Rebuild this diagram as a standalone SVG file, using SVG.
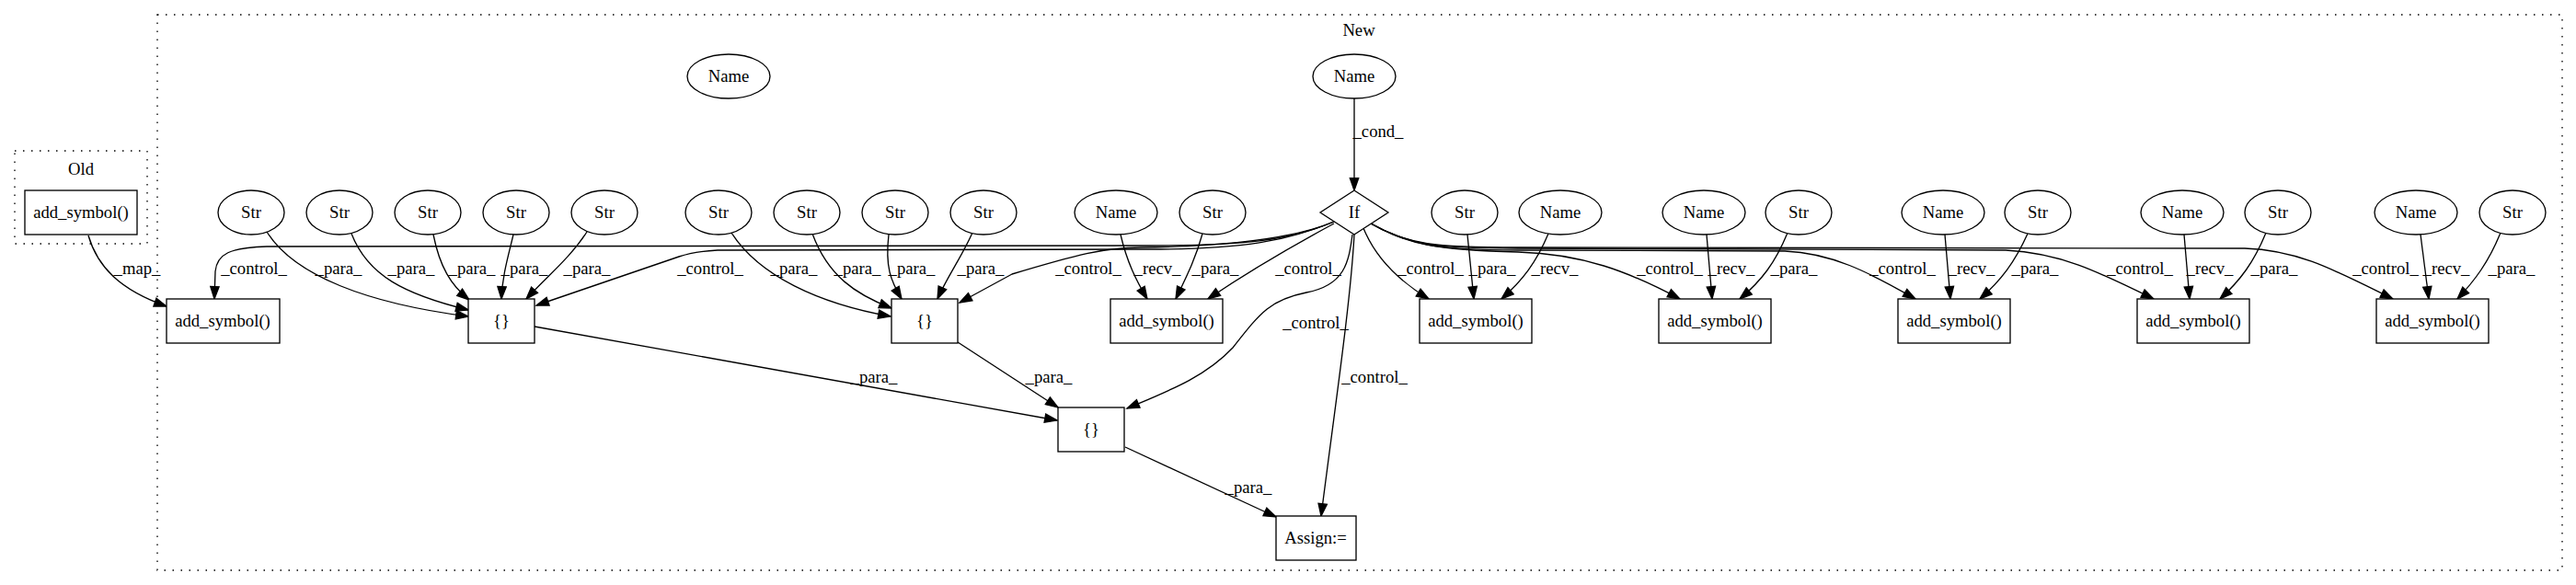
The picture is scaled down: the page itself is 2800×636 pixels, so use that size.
<svg xmlns="http://www.w3.org/2000/svg" width="2800" height="636" viewBox="0 0 2800 636">
<style>
.n{fill:#fff;stroke:#000;stroke-width:1.33}
.e{fill:none;stroke:#000;stroke-width:1.33;marker-end:url(#ah)}
.cl{fill:none;stroke:#000;stroke-width:1.33;stroke-dasharray:1.5 7.5}
text{font-family:"Liberation Serif","Times New Roman",serif;font-size:18.67px;text-anchor:middle;fill:#000}
</style>
<defs>
<marker id="ah" markerWidth="16" markerHeight="12" refX="13.3" refY="4.67" orient="auto" markerUnits="userSpaceOnUse" overflow="visible">
<path d="M0,0 L13.3,4.67 L0,9.33 z" fill="#000" stroke="#000" stroke-width="1.33"/>
</marker>
</defs>
<rect width="2800" height="636" fill="#fff"/>

<g id="cluster_old">
<rect class="cl" x="16" y="164" width="144" height="101"/>
<text x="88" y="190">Old</text>
</g>
<g id="cluster_new">
<rect class="cl" x="171" y="16" width="2614" height="604"/>
<text x="1477" y="39">New</text>
</g>

<g id="edges">
<path class="e" d="M96,256 C106,290 130,315 181,333"/>
<text x="149" y="298">_map_</text>

<path class="e" d="M1450,241 C1400,262 1350,267 1250,267 L290,268 C250,269 236,276 234,295 L233,325"/>
<text x="276" y="298">_control_</text>
<path class="e" d="M1450,241 C1400,262 1350,271 1250,271 L780,272 C760,273 750,275 738,279 L583,332"/>
<text x="772" y="298">_control_</text>
<path class="e" d="M1450,241 C1400,262 1320,268 1240,269 C1200,269 1170,277 1100,298 L1043,329"/>
<text x="1183" y="298">_control_</text>
<path class="e" d="M1450,243 C1400,270 1350,300 1313,325"/>
<text x="1422" y="298">_control_</text>
<path class="e" d="M1470,255 C1466,285 1462,310 1420,318 C1380,326 1370,340 1340,378 C1310,410 1270,425 1225,444"/>
<text x="1430" y="357">_control_</text>
<path class="e" d="M1472,255 C1468,330 1450,450 1436,561"/>
<text x="1494" y="416">_control_</text>
<path class="e" d="M1482,248 C1495,280 1520,305 1553,325"/>
<text x="1555" y="298">_control_</text>
<path class="e" d="M1490,243 C1530,265 1560,272 1650,274 C1720,276 1770,295 1826,325"/>
<text x="1815" y="298">_control_</text>
<path class="e" d="M1490,243 C1530,266 1560,272 1650,272 L1940,273 C1990,275 2030,295 2082,325"/>
<text x="2068" y="298">_control_</text>
<path class="e" d="M1490,243 C1530,266 1560,270 1650,270 L2180,272 C2240,275 2280,295 2341,325"/>
<text x="2326" y="298">_control_</text>
<path class="e" d="M1490,243 C1530,266 1560,269 1650,269 L2440,270 C2500,272 2540,295 2601,325"/>
<text x="2593" y="298">_control_</text>

<path class="e" d="M290,252 C320,300 400,330 509,344"/>
<text x="368" y="298">_para_</text>
<path class="e" d="M382,254 C400,300 440,320 509,337"/>
<text x="447" y="298">_para_</text>
<path class="e" d="M471,255 C478,290 490,310 510,326"/>
<text x="513" y="298">_para_</text>
<path class="e" d="M558,255 C552,280 546,300 545,325"/>
<text x="570" y="298">_para_</text>
<path class="e" d="M638,252 C620,280 595,300 572,325"/>
<text x="638" y="298">_para_</text>

<path class="e" d="M795,253 C825,300 890,330 968,344"/>
<text x="863" y="298">_para_</text>
<path class="e" d="M883,254 C900,300 930,320 969,335"/>
<text x="932" y="298">_para_</text>
<path class="e" d="M966,255 C962,290 968,305 980,325"/>
<text x="991" y="298">_para_</text>
<path class="e" d="M1057,253 C1045,280 1030,300 1019,325"/>
<text x="1066" y="298">_para_</text>

<path class="e" d="M1218,255 C1225,285 1235,305 1247,325"/>
<text x="1258" y="298">_recv_</text>
<path class="e" d="M1307,254 C1300,280 1290,300 1278,325"/>
<text x="1321" y="298">_para_</text>

<path class="e" d="M1595,255 L1602,325"/>
<text x="1622" y="298">_para_</text>
<path class="e" d="M1683,254 C1670,285 1655,305 1632,325"/>
<text x="1690" y="298">_recv_</text>

<path class="e" d="M1855,255 L1861,325"/>
<text x="1882" y="298">_recv_</text>
<path class="e" d="M1943,253 C1930,285 1915,305 1891,325"/>
<text x="1950" y="298">_para_</text>

<path class="e" d="M2114,255 L2120,325"/>
<text x="2143" y="298">_recv_</text>
<path class="e" d="M2204,254 C2190,285 2175,305 2152,325"/>
<text x="2212" y="298">_para_</text>

<path class="e" d="M2374,255 L2380,325"/>
<text x="2402" y="298">_recv_</text>
<path class="e" d="M2463,253 C2450,285 2435,305 2413,325"/>
<text x="2472" y="298">_para_</text>

<path class="e" d="M2631,255 L2640,325"/>
<text x="2659" y="298">_recv_</text>
<path class="e" d="M2718,253 C2705,285 2690,305 2671,325"/>
<text x="2730" y="298">_para_</text>

<path class="e" d="M581,355 L1149,457"/>
<text x="950" y="416">_para_</text>
<path class="e" d="M1041,372 L1150,443"/>
<text x="1140" y="416">_para_</text>
<path class="e" d="M1223,486 L1387,562"/>
<text x="1357" y="536">_para_</text>

<path class="e" d="M1472,107 L1472,207"/>
<text x="1498" y="149">_cond_</text>
</g>

<g id="old_add_symbol"><rect class="n" x="27" y="207" width="122" height="48"/><text x="88" y="237">add_symbol()</text></g>

<g id="name_isolated"><ellipse class="n" cx="792" cy="83" rx="45" ry="24"/><text x="792" y="89">Name</text></g>
<g id="name_cond"><ellipse class="n" cx="1472" cy="83" rx="45" ry="24"/><text x="1472" y="89">Name</text></g>
<g id="if"><polygon class="n" points="1472,207 1509,231 1472,255 1435,231"/><text x="1472" y="237">If</text></g>

<g id="str1"><ellipse class="n" cx="273" cy="231" rx="36" ry="24"/><text x="273" y="237">Str</text></g>
<g id="str2"><ellipse class="n" cx="369" cy="231" rx="36" ry="24"/><text x="369" y="237">Str</text></g>
<g id="str3"><ellipse class="n" cx="465" cy="231" rx="36" ry="24"/><text x="465" y="237">Str</text></g>
<g id="str4"><ellipse class="n" cx="561" cy="231" rx="36" ry="24"/><text x="561" y="237">Str</text></g>
<g id="str5"><ellipse class="n" cx="657" cy="231" rx="36" ry="24"/><text x="657" y="237">Str</text></g>
<g id="str6"><ellipse class="n" cx="781" cy="231" rx="36" ry="24"/><text x="781" y="237">Str</text></g>
<g id="str7"><ellipse class="n" cx="877" cy="231" rx="36" ry="24"/><text x="877" y="237">Str</text></g>
<g id="str8"><ellipse class="n" cx="973" cy="231" rx="36" ry="24"/><text x="973" y="237">Str</text></g>
<g id="str9"><ellipse class="n" cx="1069" cy="231" rx="36" ry="24"/><text x="1069" y="237">Str</text></g>
<g id="name_r2"><ellipse class="n" cx="1213" cy="231" rx="45" ry="24"/><text x="1213" y="237">Name</text></g>
<g id="str10"><ellipse class="n" cx="1318" cy="231" rx="36" ry="24"/><text x="1318" y="237">Str</text></g>
<g id="str11"><ellipse class="n" cx="1592" cy="231" rx="36" ry="24"/><text x="1592" y="237">Str</text></g>
<g id="name_r3"><ellipse class="n" cx="1696" cy="231" rx="45" ry="24"/><text x="1696" y="237">Name</text></g>
<g id="name_r4"><ellipse class="n" cx="1852" cy="231" rx="45" ry="24"/><text x="1852" y="237">Name</text></g>
<g id="str12"><ellipse class="n" cx="1955" cy="231" rx="36" ry="24"/><text x="1955" y="237">Str</text></g>
<g id="name_r5"><ellipse class="n" cx="2112" cy="231" rx="45" ry="24"/><text x="2112" y="237">Name</text></g>
<g id="str13"><ellipse class="n" cx="2215" cy="231" rx="36" ry="24"/><text x="2215" y="237">Str</text></g>
<g id="name_r6"><ellipse class="n" cx="2372" cy="231" rx="45" ry="24"/><text x="2372" y="237">Name</text></g>
<g id="str14"><ellipse class="n" cx="2476" cy="231" rx="36" ry="24"/><text x="2476" y="237">Str</text></g>
<g id="name_r7"><ellipse class="n" cx="2626" cy="231" rx="45" ry="24"/><text x="2626" y="237">Name</text></g>
<g id="str15"><ellipse class="n" cx="2731" cy="231" rx="36" ry="24"/><text x="2731" y="237">Str</text></g>

<g id="add_symbol1"><rect class="n" x="181" y="325" width="123" height="48"/><text x="242" y="355">add_symbol()</text></g>
<g id="dict1"><rect class="n" x="509" y="325" width="72" height="48"/><text x="545" y="355">{}</text></g>
<g id="dict2"><rect class="n" x="969" y="325" width="72" height="48"/><text x="1005" y="355">{}</text></g>
<g id="add_symbol2"><rect class="n" x="1207" y="325" width="122" height="48"/><text x="1268" y="355">add_symbol()</text></g>
<g id="add_symbol3"><rect class="n" x="1543" y="325" width="122" height="48"/><text x="1604" y="355">add_symbol()</text></g>
<g id="add_symbol4"><rect class="n" x="1803" y="325" width="122" height="48"/><text x="1864" y="355">add_symbol()</text></g>
<g id="add_symbol5"><rect class="n" x="2063" y="325" width="122" height="48"/><text x="2124" y="355">add_symbol()</text></g>
<g id="add_symbol6"><rect class="n" x="2323" y="325" width="122" height="48"/><text x="2384" y="355">add_symbol()</text></g>
<g id="add_symbol7"><rect class="n" x="2583" y="325" width="122" height="48"/><text x="2644" y="355">add_symbol()</text></g>
<g id="dict3"><rect class="n" x="1150" y="443" width="72" height="48"/><text x="1186" y="473">{}</text></g>
<g id="assign"><rect class="n" x="1387" y="561" width="87" height="48"/><text x="1430" y="591">Assign:=</text></g>
</svg>
